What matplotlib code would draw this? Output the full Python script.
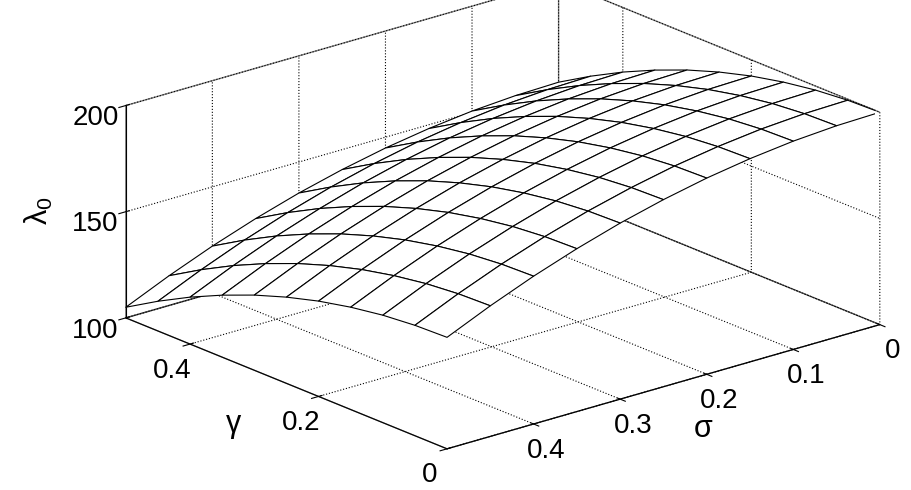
import matplotlib
matplotlib.use("Agg")
import matplotlib.pyplot as plt
import numpy as np

sigma = [0.0, 0.05, 0.1, 0.15, 0.2, 0.25, 0.3, 0.35, 0.4, 0.45, 0.5]
gamma = [0.0, 0.05, 0.1, 0.15, 0.2, 0.25, 0.3, 0.35, 0.4, 0.45, 0.5]
# rows: sigma, columns: gamma
lam0 = [
    [200.0, 199.5, 198.1, 195.7, 192.4, 188.1, 182.9, 176.7, 169.6, 161.5, 152.5],
    [199.5, 199.0, 197.6, 195.2, 191.9, 187.6, 182.4, 176.2, 169.1, 161.0, 152.0],
    [198.1, 197.6, 196.2, 193.8, 190.5, 186.2, 181.0, 174.8, 167.7, 159.6, 150.6],
    [195.7, 195.2, 193.8, 191.4, 188.1, 183.8, 178.6, 172.4, 165.3, 157.2, 148.2],
    [192.4, 191.9, 190.5, 188.1, 184.8, 180.5, 175.3, 169.1, 162.0, 153.9, 144.9],
    [188.1, 187.6, 186.2, 183.8, 180.5, 176.2, 171.0, 164.8, 157.7, 149.6, 140.6],
    [182.9, 182.4, 181.0, 178.6, 175.3, 171.0, 165.8, 159.6, 152.5, 144.4, 135.4],
    [176.7, 176.2, 174.8, 172.4, 169.1, 164.8, 159.6, 153.4, 146.3, 138.2, 129.2],
    [169.6, 169.1, 167.7, 165.3, 162.0, 157.7, 152.5, 146.3, 139.2, 131.1, 122.1],
    [161.5, 161.0, 159.6, 157.2, 153.9, 149.6, 144.4, 138.2, 131.1, 123.0, 114.0],
    [152.5, 152.0, 150.6, 148.2, 144.9, 140.6, 135.4, 129.2, 122.1, 114.0, 105.0],
]

plt.rcParams['font.family'] = ['Liberation Sans', 'DejaVu Sans']
plt.rcParams['mathtext.fontset'] = 'custom'
plt.rcParams['mathtext.rm'] = 'Liberation Sans'
plt.rcParams['mathtext.it'] = 'Liberation Sans'

fig = plt.figure(figsize=(9.12, 4.9), dpi=100)
ax = fig.add_axes([-0.155, -0.24, 1.39, 1.56], projection='3d', proj_type='ortho')
S, G = np.meshgrid(sigma, gamma, indexing='ij')
Z = np.array(lam0)
ax.plot_surface(S, G, Z, color='white', edgecolor='black', linewidth=0.8,
                shade=False, rstride=1, cstride=1, antialiased=True)
ax.set_xlim(0, 0.5)
ax.set_ylim(0.5, 0)
ax.set_zlim(100, 200)
ax.set_xticks([0, 0.1, 0.2, 0.3, 0.4])
ax.set_yticks([0, 0.2, 0.4])
ax.set_zticks([100, 150, 200])
ax.set_xticklabels(['0', '0.1', '0.2', '0.3', '0.4'])
ax.set_yticklabels(['0', '0.2', '0.4'])
ax.view_init(elev=20, azim=50)
ax.set_box_aspect((1.3, 1.15, 0.52))
for a in (ax.xaxis, ax.yaxis, ax.zaxis):
    a.pane.fill = False
    a.pane.set_edgecolor('black')
    a._axinfo['grid'].update(color='black', linestyle=':', linewidth=0.8)
    a.line.set_color('black')
ax.tick_params(labelsize=20, colors='black')
ax.set_xlabel(r'σ', fontsize=22, labelpad=14)
ax.set_ylabel(r'γ', fontsize=22, labelpad=14)
ax.set_zlabel(r'$\lambda_0$', fontsize=22, labelpad=12)
fig.savefig('out.png', dpi=100)
